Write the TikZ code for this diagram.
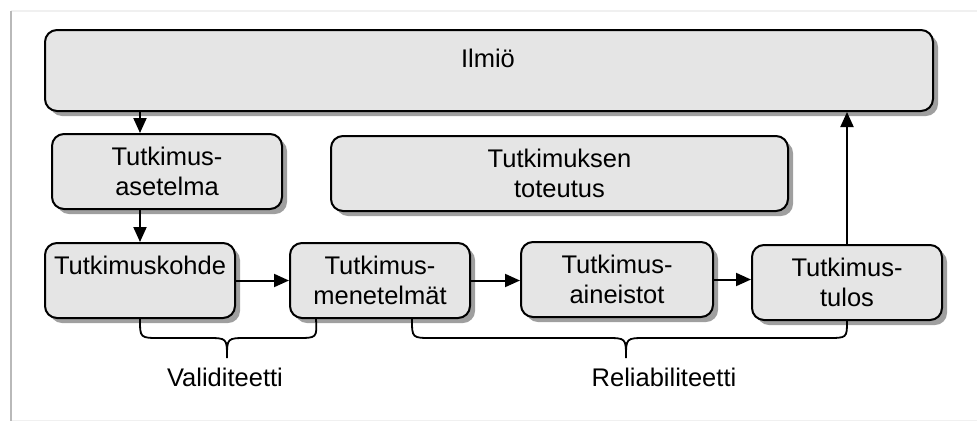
\documentclass[tikz,border=0pt]{standalone}
\usepackage{fontspec}
\setmainfont{Liberation Sans}
\usetikzlibrary{shadows,arrows.meta}
\begin{document}
\begin{tikzpicture}[x=1pt,y=-1pt,
  box/.style={draw=black, line width=2pt, fill=gray!20, rounded corners=12pt,
    align=center, inner sep=0pt, font=\fontsize{25.5}{30}\selectfont,
    drop shadow={shadow xshift=5pt, shadow yshift=-5pt, fill=gray!75, opacity=1}},
  arr/.style={line width=2pt, -{Triangle[length=15pt,width=13pt]}},
  brace/.style={line width=1.8pt},
  lbl/.style={font=\fontsize{25.5}{30}\selectfont, inner sep=0pt}]
\useasboundingbox (0,0) rectangle (977,421);
% frame
\draw[gray!12, line width=1.5pt] (11,11) -- (977,11);
\draw[gray!12, line width=1pt] (11,420) -- (977,420);
\draw[gray!55, line width=2pt] (11,11) -- (11,421);
% boxes
\node[box, minimum width=888pt, minimum height=81pt] (ilmio) at (489,70.5) {};
\node[lbl] (ilmiotxt) at (488,58) {Ilmiö};
\node[box, minimum width=230pt, minimum height=75pt] (aset) at (167,171.5) {Tutkimus-\\asetelma};
\node[box, minimum width=457pt, minimum height=75pt] (tot) at (559.5,173.5) {Tutkimuksen\\toteutus};
\node[box, minimum width=190pt, minimum height=75pt] (kohde) at (140,280.5) {Tutkimuskohde\\~};
\node[box, minimum width=180pt, minimum height=75pt] (menet) at (380,280.5) {Tutkimus-\\menetelmät};
\node[box, minimum width=192pt, minimum height=75pt] (aine) at (617,279.5) {Tutkimus-\\aineistot};
\node[box, minimum width=190pt, minimum height=75pt] (tulos) at (847,282.5) {Tutkimus-\\tulos};
% arrows
\draw[arr] (ilmio.south -| kohde.north) -- (aset.north -| kohde.north);
\draw[arr] (aset.south -| kohde.north) -- (kohde.north);
\draw[arr] (kohde.east) -- (menet.west);
\draw[arr] (menet.east) -- (menet.east -| aine.west);
\draw[arr] (aine.east) -- (aine.east -| tulos.west);
\draw[arr] (tulos.north) -- (tulos.north |- ilmio.south);
% braces
\coordinate (v1) at (kohde.south);
\coordinate (v2) at ([xshift=27pt]menet.south west);
\coordinate (r1) at ([xshift=32pt]menet.south);
\coordinate (r2) at (tulos.south);
\draw[brace] (v1) .. controls (140,338) .. (160,338) -- (207,338)
  .. controls (227,338) .. (227,358) .. controls (227,338) .. (247,338)
  -- (297,338) .. controls (317,338) .. (v2);
\draw[brace] (r1) .. controls (412,338) .. (432,338) -- (606,338)
  .. controls (626,338) .. (626,358) .. controls (626,338) .. (646,338)
  -- (827,338) .. controls (847,338) .. (r2);
\node[lbl] (vali) at (225,377) {Validiteetti};
\node[lbl] (reli) at (664,377) {Reliabiliteetti};
\end{tikzpicture}
\end{document}
